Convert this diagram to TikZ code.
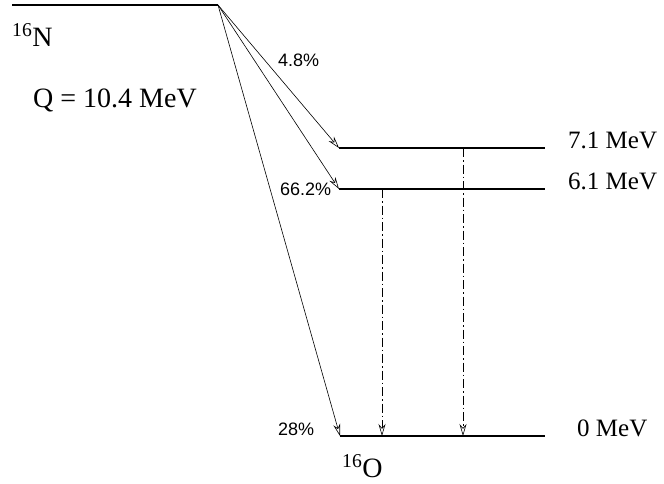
\documentclass[tikz,border=0pt]{standalone}
\usepackage{fontspec}
\setmainfont{Liberation Serif}
\newfontfamily\pctfont{Liberation Sans}
\usetikzlibrary{arrows.meta}

\begin{document}
\begin{tikzpicture}[x=1pt, y=-1pt,
    level/.style={line width=2.2pt},
    decay/.style={-{Stealth[open, length=12pt, width=7pt]}, line width=0.6pt},
    gamma/.style={decay, dash pattern=on 9pt off 3pt on 1.5pt off 3pt},
    pct/.style={font=\pctfont\fontsize{18}{20}\selectfont, anchor=base west, inner sep=0pt},
    energy/.style={font=\fontsize{25}{28}\selectfont, anchor=base west, inner sep=0pt},
    nucleus/.style={font=\fontsize{28}{30}\selectfont, anchor=base west, inner sep=0pt}
]
\useasboundingbox (0,0) rectangle (664,483);

% 16N ground state
\coordinate (nL) at (12,5);
\coordinate (nR) at (218,5);
\draw[level] (nL) -- (nR);
\node[nucleus] (parent) at (12,46) {\textsuperscript{16}N};
\node[nucleus] (qval) at (33,107) {Q = 10.4 MeV};

% 16O levels
\coordinate (a) at (339,148);
\coordinate (b) at (545,148);
\coordinate (c) at (339,189);
\coordinate (d) at (545,189);
\coordinate (e) at (340,436);
\coordinate (f) at (545,436);
\draw[level] (a) -- (b);
\draw[level] (c) -- (d);
\draw[level] (e) -- (f);
\node[energy] (e71) at (568,148) {7.1 MeV};
\node[energy] (e61) at (568,189) {6.1 MeV};
\node[energy] (e0) at (577,436) {0 MeV};
\node[nucleus] (daughter) at (342,477) {\textsuperscript{16}O};

% beta branches
\draw[decay] (nR) -- (a);
\draw[decay] (nR) -- (c);
\draw[decay] (nR) -- (e);
\node[pct] (br1) at (278,66) {4.8\%};
\node[pct] (br2) at (280,195) {66.2\%};
\node[pct] (br3) at (278,435) {28\%};

% gamma transitions
\coordinate (g1top) at (382,189);
\coordinate (g1bot) at (382,436);
\coordinate (g2top) at (463,148);
\coordinate (g2bot) at (463,436);
\draw[gamma] (g1top) -- (g1bot);
\draw[gamma] (g2top) -- (g2bot);

\end{tikzpicture}
\end{document}
